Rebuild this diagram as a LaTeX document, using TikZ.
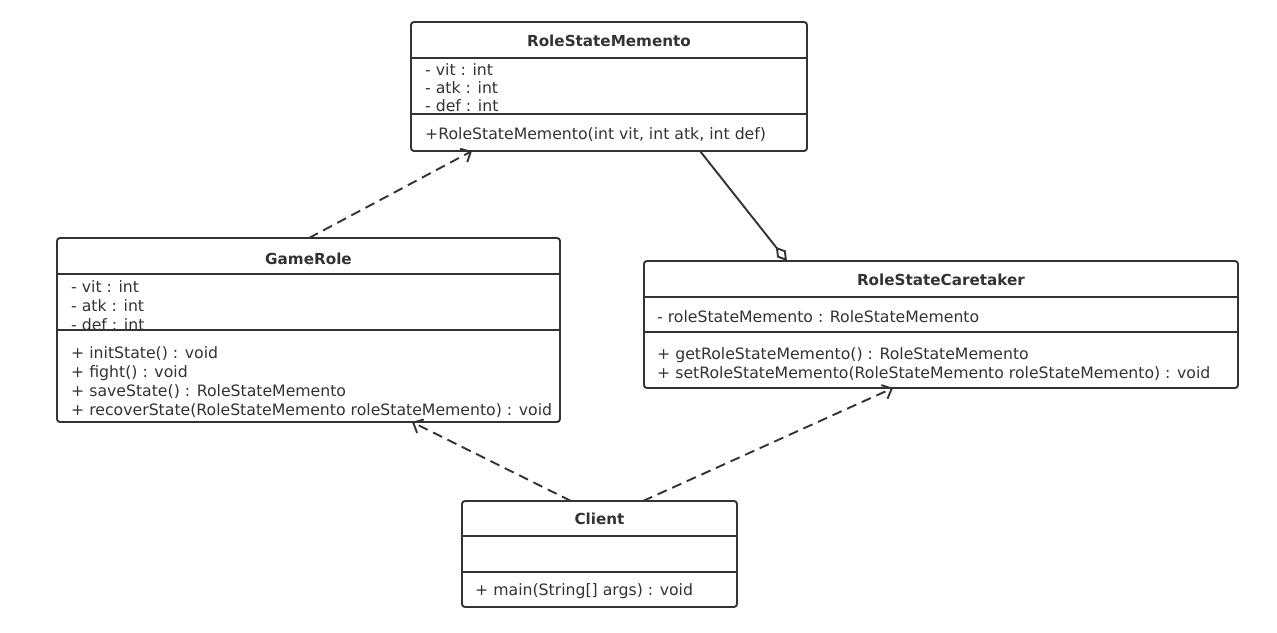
\documentclass[tikz,border=0pt]{standalone}
\usepackage{fontspec}
\setmainfont{DejaVu Sans}
\usetikzlibrary{arrows.meta}
\definecolor{umlgray}{HTML}{333333}

\begin{document}
\begin{tikzpicture}[x=1pt,y=-1pt,
    cls/.style={draw=umlgray,line width=1.9pt,rounded corners=3pt,outer sep=0pt,inner sep=0pt},
    title/.style={font=\fontsize{15.2}{18}\selectfont\bfseries,text=umlgray,inner sep=0pt,text height=12pt,text depth=2pt},
    member/.style={font=\fontsize{15.7}{18}\selectfont,text=umlgray,anchor=west,inner sep=0pt,text height=12pt,text depth=2pt},
    sep/.style={umlgray,line width=1.9pt},
    dep/.style={umlgray,line width=1.9pt,dash pattern=on 10pt off 6pt,-{Straight Barb[length=8pt,width=15pt]}},
    agg/.style={umlgray,line width=1.9pt,-{Diamond[open,length=18pt,width=11pt]}}]
      \fill[white] (0,0) rectangle (1277,632);
      \useasboundingbox (0,0) rectangle (1277,632);

      \node (memento) [cls,minimum width=396pt,minimum height=129pt] at (609,86.5) {};
      \node (gamerole) [cls,minimum width=503pt,minimum height=184pt] at (308.5,330) {};
      \node (caretaker) [cls,minimum width=594pt,minimum height=127pt] at (941,324.5) {};
      \node (client) [cls,minimum width=275pt,minimum height=106pt] at (599.5,554) {};

      \node (memento-t) [title] at (609,41.5) {RoleStateMemento};
      \node (memento-a1) [member] at (425,70) {- vit : int};
      \node (memento-a2) [member] at (425,88.5) {- atk : int};
      \node (memento-a3) [member] at (425,106.5) {- def : int};
      \node (memento-m1) [member] at (425,134.5) {+RoleStateMemento(int vit, int atk, int def)};

      \node (gamerole-t) [title] at (308.5,259) {GameRole};
      \node (gamerole-a1) [member] at (71,287) {- vit : int};
      \node (gamerole-a2) [member] at (71,306) {- atk : int};
      \node (gamerole-a3) [member] at (71,325) {- def : int};
      \node (gamerole-m1) [member] at (71,353) {+ initState() : void};
      \node (gamerole-m2) [member] at (71,372) {+ fight() : void};
      \node (gamerole-m3) [member] at (71,391) {+ saveState() : RoleStateMemento};
      \node (gamerole-m4) [member] at (71,410) {+ recoverState(RoleStateMemento roleStateMemento) : void};

      \node (caretaker-t) [title] at (941,280) {RoleStateCaretaker};
      \node (caretaker-a1) [member] at (657,317) {- roleStateMemento : RoleStateMemento};
      \node (caretaker-m1) [member] at (657,354) {+ getRoleStateMemento() : RoleStateMemento};
      \node (caretaker-m2) [member] at (657,373) {+ setRoleStateMemento(RoleStateMemento roleStateMemento) : void};

      \node (client-t) [title] at (599.5,519) {Client};
      \node (client-m1) [member] at (475,590) {+ main(String[] args) : void};

      \draw[sep] ([yshift=-36pt]memento.north west) -- ([yshift=-36pt]memento.north east);
      \draw[sep] ([yshift=-92pt]memento.north west) -- ([yshift=-92pt]memento.north east);
      \draw[sep] ([yshift=-36pt]gamerole.north west) -- ([yshift=-36pt]gamerole.north east);
      \draw[sep] ([yshift=-92pt]gamerole.north west) -- ([yshift=-92pt]gamerole.north east);
      \draw[sep] ([yshift=-36pt]caretaker.north west) -- ([yshift=-36pt]caretaker.north east);
      \draw[sep] ([yshift=-71pt]caretaker.north west) -- ([yshift=-71pt]caretaker.north east);
      \draw[sep] ([yshift=-35pt]client.north west) -- ([yshift=-35pt]client.north east);
      \draw[sep] ([yshift=-71pt]client.north west) -- ([yshift=-71pt]client.north east);

      \draw[dep] ([xshift=252pt]gamerole.north west) -- ([xshift=61pt]memento.south west);
      \draw[agg] ([xshift=289pt]memento.south west) -- ([xshift=143pt]caretaker.north west);
      \draw[dep] ([xshift=109pt]client.north west) -- ([xshift=355pt]gamerole.south west);
      \draw[dep] ([xshift=181pt]client.north west) -- ([xshift=249pt]caretaker.south west);
    \end{tikzpicture}
\end{document}
